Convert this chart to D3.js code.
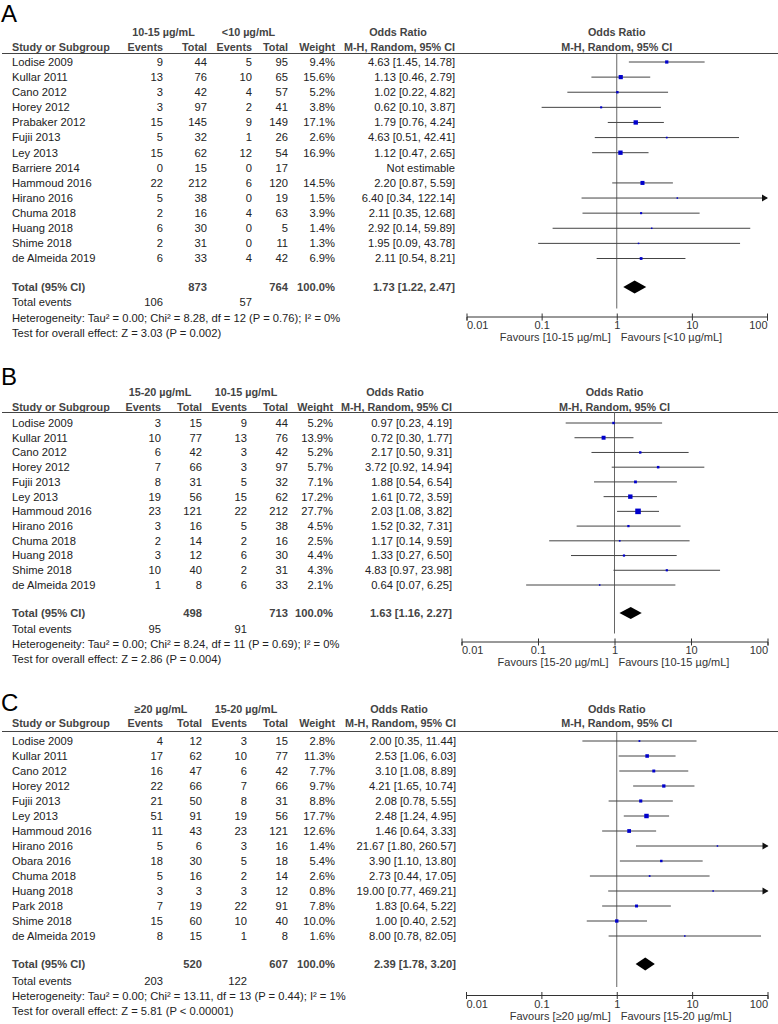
<!DOCTYPE html>
<html>
<head>
<meta charset="utf-8">
<script src="https://cdn.jsdelivr.net/npm/d3@7"></script>
<style>
  body { margin: 0; background: #fff; }
  svg { display: block; font-family: "Liberation Sans", Arial, sans-serif; }
  .lbl { font-size: 24px; fill: #000; }
  .hd { font-size: 10.8px; font-weight: bold; fill: #444; }
  .tx { font-size: 11.2px; fill: #222; }
  .tot { font-size: 11.2px; font-weight: bold; fill: #444; }
  .ax { font-size: 11px; fill: #333; }
</style>
</head>
<body>
<svg id="chart" width="778" height="1024"></svg>
<script>
// ---- panel A: 10-15 vs <10 ----
const studiesA = ["Lodise 2009", "Kullar 2011", "Cano 2012", "Horey 2012", "Prabaker 2012", "Fujii 2013", "Ley 2013",
  "Barriere 2014", "Hammoud 2016", "Hirano 2016", "Chuma 2018", "Huang 2018", "Shime 2018", "de Almeida 2019"];
const eventsExpA = [9, 13, 3, 3, 15, 5, 15, 0, 22, 5, 2, 6, 2, 6];
const totalExpA = [44, 76, 42, 97, 145, 32, 62, 15, 212, 38, 16, 30, 31, 33];
const eventsCtlA = [5, 10, 4, 2, 9, 1, 12, 0, 6, 0, 4, 0, 0, 4];
const totalCtlA = [95, 65, 57, 41, 149, 26, 54, 17, 120, 19, 63, 5, 11, 42];
const weightA = [9.4, 15.6, 5.2, 3.8, 17.1, 2.6, 16.9, null, 14.5, 1.5, 3.9, 1.4, 1.3, 6.9];
const orA = [4.63, 1.13, 1.02, 0.62, 1.79, 4.63, 1.12, null, 2.20, 6.40, 2.11, 2.92, 1.95, 2.11];
const loA = [1.45, 0.46, 0.22, 0.10, 0.76, 0.51, 0.47, null, 0.87, 0.34, 0.35, 0.14, 0.09, 0.54];
const hiA = [14.78, 2.79, 4.82, 3.87, 4.24, 42.41, 2.65, null, 5.59, 122.14, 12.68, 59.89, 43.78, 8.21];
const pooledA = [1.73, 1.22, 2.47];
const groupsA = ["10-15 µg/mL", "<10 µg/mL"];
const hetA = "Heterogeneity: Tau² = 0.00; Chi² = 8.28, df = 12 (P = 0.76); I² = 0%";
const testA = "Test for overall effect: Z = 3.03 (P = 0.002)";

// ---- panel B: 15-20 vs 10-15 ----
const studiesB = ["Lodise 2009", "Kullar 2011", "Cano 2012", "Horey 2012", "Fujii 2013", "Ley 2013", "Hammoud 2016",
  "Hirano 2016", "Chuma 2018", "Huang 2018", "Shime 2018", "de Almeida 2019"];
const eventsExpB = [3, 10, 6, 7, 8, 19, 23, 3, 2, 3, 10, 1];
const totalExpB = [15, 77, 42, 66, 31, 56, 121, 16, 14, 12, 40, 8];
const eventsCtlB = [9, 13, 3, 3, 5, 15, 22, 5, 2, 6, 2, 6];
const totalCtlB = [44, 76, 42, 97, 32, 62, 212, 38, 16, 30, 31, 33];
const weightB = [5.2, 13.9, 5.2, 5.7, 7.1, 17.2, 27.7, 4.5, 2.5, 4.4, 4.3, 2.1];
const orB = [0.97, 0.72, 2.17, 3.72, 1.88, 1.61, 2.03, 1.52, 1.17, 1.33, 4.83, 0.64];
const loB = [0.23, 0.30, 0.50, 0.92, 0.54, 0.72, 1.08, 0.32, 0.14, 0.27, 0.97, 0.07];
const hiB = [4.19, 1.77, 9.31, 14.94, 6.54, 3.59, 3.82, 7.31, 9.59, 6.50, 23.98, 6.25];
const pooledB = [1.63, 1.16, 2.27];
const groupsB = ["15-20 µg/mL", "10-15 µg/mL"];
const hetB = "Heterogeneity: Tau² = 0.00; Chi² = 8.24, df = 11 (P = 0.69); I² = 0%";
const testB = "Test for overall effect: Z = 2.86 (P = 0.004)";

// ---- panel C: >=20 vs 15-20 ----
const studiesC = ["Lodise 2009", "Kullar 2011", "Cano 2012", "Horey 2012", "Fujii 2013", "Ley 2013", "Hammoud 2016",
  "Hirano 2016", "Obara 2016", "Chuma 2018", "Huang 2018", "Park 2018", "Shime 2018", "de Almeida 2019"];
const eventsExpC = [4, 17, 16, 22, 21, 51, 11, 5, 18, 5, 3, 7, 15, 8];
const totalExpC = [12, 62, 47, 66, 50, 91, 43, 6, 30, 16, 3, 19, 60, 15];
const eventsCtlC = [3, 10, 6, 7, 8, 19, 23, 3, 5, 2, 3, 22, 10, 1];
const totalCtlC = [15, 77, 42, 66, 31, 56, 121, 16, 18, 14, 12, 91, 40, 8];
const weightC = [2.8, 11.3, 7.7, 9.7, 8.8, 17.7, 12.6, 1.4, 5.4, 2.6, 0.8, 7.8, 10.0, 1.6];
const orC = [2.00, 2.53, 3.10, 4.21, 2.08, 2.48, 1.46, 21.67, 3.90, 2.73, 19.00, 1.83, 1.00, 8.00];
const loC = [0.35, 1.06, 1.08, 1.65, 0.78, 1.24, 0.64, 1.80, 1.10, 0.44, 0.77, 0.64, 0.40, 0.78];
const hiC = [11.44, 6.03, 8.89, 10.74, 5.55, 4.95, 3.33, 260.57, 13.80, 17.05, 469.21, 5.22, 2.52, 82.05];
const pooledC = [2.39, 1.78, 3.20];
const groupsC = ["≥20 µg/mL", "15-20 µg/mL"];
const hetC = "Heterogeneity: Tau² = 0.00; Chi² = 13.11, df = 13 (P = 0.44); I² = 1%";
const testC = "Test for overall effect: Z = 5.81 (P < 0.00001)";

const axisTicks = [0.01, 0.1, 1, 10, 100];

const panels = [
  { label: "A", studies: studiesA, ev1: eventsExpA, n1: totalExpA, ev2: eventsCtlA, n2: totalCtlA,
    w: weightA, or: orA, lo: loA, hi: hiA, pooled: pooledA, groups: groupsA, het: hetA, test: testA,
    lay: { label: 13.5, h1: 32, h2: 47, line: 53.5, first: 62, last: 258.5, total: 287, events: 302.5,
           het: 318, test: 333, axis: 316.5, cols: [163, 207, 252, 288, 335, 455], xr: [466.5, 767], dh: 6.5 } },
  { label: "B", studies: studiesB, ev1: eventsExpB, n1: totalExpB, ev2: eventsCtlB, n2: totalCtlB,
    w: weightB, or: orB, lo: loB, hi: hiB, pooled: pooledB, groups: groupsB, het: hetB, test: testB,
    lay: { label: 377, h1: 392, h2: 407, line: 412.5, first: 423, last: 585, total: 613, events: 629,
           het: 644, test: 659, axis: 641.5, cols: [161, 202, 247, 288, 333, 452], xr: [461.5, 767.5], dh: 6 } },
  { label: "C", studies: studiesC, ev1: eventsExpC, n1: totalExpC, ev2: eventsCtlC, n2: totalCtlC,
    w: weightC, or: orC, lo: loC, hi: hiC, pooled: pooledC, groups: groupsC, het: hetC, test: testC,
    lay: { label: 703, h1: 709, h2: 723, line: 731.5, first: 741, last: 936, total: 964, events: 981,
           het: 996.5, test: 1011.5, axis: 995, cols: [163, 202, 247, 288, 335, 456], xr: [466, 767.5], dh: 6.5 } }
];

const svg = d3.select("#chart");
const fmtCI = (o, l, h) => `${o.toFixed(2)} [${l.toFixed(2)}, ${h.toFixed(2)}]`;

function txt(g, cls, x, y, s, anchor) {
  return g.append("text").attr("class", cls).attr("x", x).attr("y", y).attr("dy", "0.35em")
    .attr("text-anchor", anchor || "start").text(s);
}

function drawPanel(p) {
  const L = p.lay, c = L.cols;
  const g = svg.append("g");
  const x = d3.scaleLog().domain([0.01, 100]).range(L.xr);
  const y = d3.scalePoint().domain(p.studies).range([L.first, L.last]);
  const size = d3.scaleSqrt().domain([0, 30]).range([0, 5.8]);
  const x1 = x(1);

  txt(g, "lbl", 1, L.label, p.label);

  // headers
  txt(g, "hd", (c[0] - 35 + c[1]) / 2 - 4, L.h1, p.groups[0], "middle");
  txt(g, "hd", (c[2] - 35 + c[3]) / 2 - 4, L.h1, p.groups[1], "middle");
  txt(g, "hd", c[5] - 57, L.h1, "Odds Ratio", "middle");
  txt(g, "hd", x1, L.h1, "Odds Ratio", "middle");
  txt(g, "hd", 12, L.h2, "Study or Subgroup");
  txt(g, "hd", c[0], L.h2, "Events", "end");
  txt(g, "hd", c[1], L.h2, "Total", "end");
  txt(g, "hd", c[2], L.h2, "Events", "end");
  txt(g, "hd", c[3], L.h2, "Total", "end");
  txt(g, "hd", c[4], L.h2, "Weight", "end");
  txt(g, "hd", c[5], L.h2, "M-H, Random, 95% CI", "end");
  txt(g, "hd", x1, L.h2, "M-H, Random, 95% CI", "middle");

  g.append("line").attr("x1", 2).attr("x2", 778).attr("y1", L.line).attr("y2", L.line)
    .attr("stroke", "#444").attr("stroke-width", 1.2);

  // study rows
  p.studies.forEach((s, i) => {
    const yy = y(s);
    txt(g, "tx", 12, yy, s);
    txt(g, "tx", c[0], yy, p.ev1[i], "end");
    txt(g, "tx", c[1], yy, p.n1[i], "end");
    txt(g, "tx", c[2], yy, p.ev2[i], "end");
    txt(g, "tx", c[3], yy, p.n2[i], "end");
    if (p.w[i] != null) txt(g, "tx", c[4], yy, p.w[i].toFixed(1) + "%", "end");
    txt(g, "tx", c[5], yy, p.or[i] != null ? fmtCI(p.or[i], p.lo[i], p.hi[i]) : "Not estimable", "end");
  });

  // null line
  g.append("line").attr("x1", x1).attr("x2", x1).attr("y1", L.line).attr("y2", L.axis - 8)
    .attr("stroke", "#666").attr("stroke-width", 1);

  const idx = p.studies.map((s, i) => i).filter(i => p.or[i] != null);

  g.selectAll(".ci").data(idx).enter().append("line")
    .attr("x1", i => x(Math.max(p.lo[i], 0.01)))
    .attr("x2", i => x(Math.min(p.hi[i], 100)))
    .attr("y1", i => y(p.studies[i])).attr("y2", i => y(p.studies[i]))
    .attr("stroke", "#444").attr("stroke-width", 1);

  g.selectAll(".arr").data(idx.filter(i => p.hi[i] > 100)).enter().append("path")
    .attr("d", i => {
      const xx = x(100), yy = y(p.studies[i]);
      return `M${xx - 5},${yy - 3.5}L${xx + 1},${yy}L${xx - 5},${yy + 3.5}Z`;
    })
    .attr("fill", "#111");

  g.selectAll(".sq").data(idx).enter().append("rect")
    .attr("x", i => x(p.or[i]) - Math.max(size(p.w[i]), 1.5) / 2)
    .attr("y", i => y(p.studies[i]) - Math.max(size(p.w[i]), 1.5) / 2)
    .attr("width", i => Math.max(size(p.w[i]), 1.5))
    .attr("height", i => Math.max(size(p.w[i]), 1.5))
    .attr("fill", "#0000cc");

  // total row
  txt(g, "tot", 12, L.total, "Total (95% CI)");
  txt(g, "tot", c[1], L.total, d3.sum(p.n1), "end");
  txt(g, "tot", c[3], L.total, d3.sum(p.n2), "end");
  txt(g, "tot", c[4], L.total, "100.0%", "end");
  txt(g, "tot", c[5], L.total, fmtCI(p.pooled[0], p.pooled[1], p.pooled[2]), "end");

  const [po, pl, ph] = p.pooled;
  g.append("path")
    .attr("d", `M${x(pl)},${L.total}L${x(po)},${L.total - L.dh}L${x(ph)},${L.total}L${x(po)},${L.total + L.dh}Z`)
    .attr("fill", "#000");

  txt(g, "tx", 12, L.events, "Total events");
  txt(g, "tx", c[0], L.events, d3.sum(p.ev1), "end");
  txt(g, "tx", c[2], L.events, d3.sum(p.ev2), "end");
  txt(g, "tx", 12, L.het, p.het);
  txt(g, "tx", 12, L.test, p.test);

  // axis
  const axis = d3.axisBottom(x).tickValues(axisTicks).tickFormat(d => String(d)).tickSizeOuter(0).tickSize(4);
  const ag = g.append("g").attr("transform", `translate(0,${L.axis})`).call(axis);
  ag.select(".domain").attr("stroke", "#333");
  ag.selectAll(".tick line").attr("y1", -3).attr("y2", 4).attr("stroke", "#333");
  ag.selectAll(".tick text").attr("class", "ax").attr("y", 9).attr("dy", "0.35em")
    .style("font-family", "inherit").style("font-size", "11px").attr("fill", "#333")
    .attr("text-anchor", (d, i) => i === 0 ? "start" : (i === axisTicks.length - 1 ? "end" : "middle"));

  txt(g, "ax", x1 - 6, L.axis + 21, `Favours [${p.groups[0]}]`, "end");
  txt(g, "ax", x1 + 4, L.axis + 21, `Favours [${p.groups[1]}]`, "start");
}

panels.forEach(drawPanel);
</script>
</body>
</html>
